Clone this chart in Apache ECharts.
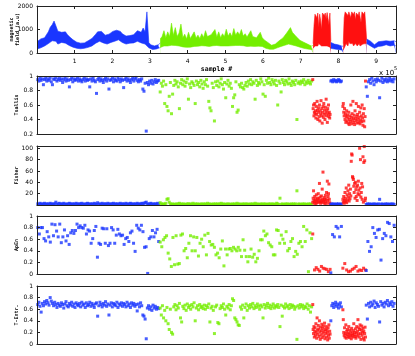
<!DOCTYPE html>
<html><head><meta charset="utf-8">
<script src="https://cdn.jsdelivr.net/npm/echarts@6/dist/echarts.min.js"></script>
<style>html,body{margin:0;padding:0;background:#fff}#c{width:415px;height:356px}</style>
</head><body><div id="c"></div><script>
// ---------- DATA (x in units of 1e5 samples) ----------
const COLORS = { blue: '#1a36ff', green: '#74ee00', red: '#ff1010' };
const xTickLabels = ['1','2','3','4','5','6','7','8','9'];
const panelNames = ['magnetic\nfield (a.u)', 'Tsallis', 'Fisher', 'ApEn', 'T-Entr.'];

// segments for the magnetic-field band (contiguous)
const magRanges = [[0,3.27],[3.27,7.33],[7.33,7.80],[7.80,8.13],[8.13,8.75],[8.75,9.53]];
const magColors = ['blue','green','red','blue','red','blue'];
const magLo = [
 [170,200,220,260,300,350,400,480,520,560,500,380,420,450,400,420,370,320,290,250,230,200,190,180,190,200,210,240,280,300,350,420,480,500,470,430,400,380,420,450,480,500,520,560,530,450,400,380,400,420,400,430,460,500,480,430,450,380,300,220,180,150,160,170,200,230],
 [230,280,300,320,300,310,330,300,320,280,300,290,260,250,240,260,250,270,280,260,290,300,310,290,300,290,280,300,310,300,320,310,300,290,300,310,300,320,310,330,320,340,320,300,310,300,280,300,290,300,280,270,290,300,280,250,200,180,160,150,160,180,220,250,280,300,330,350,380,360,340,320,300,270,250,220,200,180,170,160,150,170],
 [200,250,300,280,350,300,400,320,350,300,280,350,300,320,280,300,260,300,250,220],
 [200,180,170,160,150,140,130,120],
 [130,200,300,400,350,300,500,400,350,450,400,300,350,400,380,300,350,400,300,350,320,380,350,300,400,450],
 [400,350,300,250,200,220,280,320,300,330,350,320,300,350,330,300]
];
const magHi = [
 [480,560,600,520,650,780,900,1100,1200,1360,1150,930,980,880,860,900,790,700,640,560,500,460,430,420,440,430,470,520,580,620,700,800,900,980,920,850,760,720,800,880,920,880,970,1000,920,820,760,720,780,740,700,780,860,950,1000,880,1060,900,1750,450,350,320,300,330,350,420],
 [600,700,950,650,900,700,1270,750,1080,700,850,1230,650,800,600,880,620,700,900,640,760,620,820,660,950,700,620,780,700,1000,680,900,650,820,700,1010,720,860,700,1040,760,900,780,1000,720,820,680,760,950,700,740,650,700,880,660,560,480,450,400,330,320,380,460,520,560,640,720,850,900,1080,880,820,700,620,540,500,460,420,380,340,300,320],
 [400,1200,1650,1720,1500,1700,1100,1650,1400,1000,1700,1720,1600,1700,1450,1720,1650,1200,1700,500],
 [450,400,380,360,350,330,300,280],
 [400,1500,1750,1700,1750,1600,1750,1720,1500,1750,1700,1650,1750,1400,1700,1750,1600,1750,1700,1300,1750,1700,1650,1750,1200,550],
 [600,550,500,420,350,380,480,520,500,560,520,540,500,560,520,480]
];

// segments for the windowed measures
const segRanges = [[0.02,3.23],[3.27,7.29],[7.32,7.78],[7.80,8.08],[8.12,8.72],[8.74,9.48]];
const segColors = ['blue','green','red','blue','red','blue'];

const tsallis = [
 [.95,.93,.97,.94,.96,.88,.95,.97,.93,.96,.94,.97,.92,.88,.96,.95,.98,.93,.95,.97,.94,.96,.91,.95,.97,.93,.96,.94,.85,.95,.97,.92,.96,.94,.95,.97,.93,.96,.94,.92,.95,.97,.93,.96,.94,.95,.85,.96,.93,.97,.94,.92,.76,.95,.97,.93,.96,.94,.91,.95,.97,.93,.96,.82,.94,.95,.97,.92,.96,.94,.93,.97,.95,.92,.96,.94,.84,.95,.97,.93,.96,.94,.91,.95,.97,.93,.96,.98,.94,.92,.95,.93,.96,.82,.79,.90,.24,.91,.88,.93,.90,.94,.89,.92,.95,.91,.93,.94],
 [.78,.90,.86,.93,.62,.88,.58,.52,.72,.91,.48,.75,.87,.94,.89,.92,.85,.55,.90,.95,.88,.93,.86,.91,.96,.68,.89,.84,.92,.90,.87,.62,.93,.88,.91,.85,.94,.89,.83,.92,.88,.95,.86,.65,.56,.52,.90,.84,.38,.92,.87,.93,.85,.90,.96,.88,.82,.91,.70,.89,.94,.86,.90,.83,.58,.70,.74,.92,.50,.53,.88,.85,.90,.84,.82,.87,.91,.86,.93,.89,.95,.88,.92,.90,.68,.94,.87,.91,.89,.96,.92,.75,.88,.72,.94,.90,.97,.91,.88,.95,.92,.89,.94,.87,.60,.93,.90,.78,.95,.91,.88,.94,.92,.89,.96,.90,.87,.93,.91,.88,.94,.40,.90,.92,.89,.93,.91,.95,.88,.92,.90,.94,.91,.89,.93],
 [.95,.55,.60,.45,.50,.62,.48,.52,.42,.58,.47,.65,.53,.40,.50,.56,.44,.60,.38,.52,.48,.66,.45,.55,.35,.50,.58,.43,.62,.47,.53,.40,.57,.49,.68,.45,.52,.36,.55,.48,.60,.44,.50,.42,.47],
 [.93,.94,.92,.95,.93,.94,.92,.93,.95,.94,.92,.93],
 [.58,.62,.50,.45,.55,.40,.48,.36,.44,.52,.38,.46,.42,.35,.50,.33,.40,.45,.37,.60,.43,.34,.48,.39,.65,.42,.36,.46,.33,.52,.41,.38,.62,.44,.35,.47,.40,.58,.36,.43,.50,.34,.39,.56,.45,.37,.60,.42,.32,.48,.38,.55,.30,.44,.93],
 [.85,.72,.92,.95,.90,.97,.93,.88,.95,.92,.96,.94,.70,.93,.97,.91,.95,.93,.96,.92,.94,.97,.93,.95,.92,.96]
];

const fisher = [
 [2,1,3,2,1,2,3,1,2,2,1,3,2,1,2,2,5,1,2,3,2,1,2,3,1,2,1,2,3,2,1,2,2,1,3,2,1,2,2,3,1,2,1,2,3,2,1,2,2,1,3,2,1,4,2,1,2,3,1,2,2,1,3,2,1,2,2,3,1,2,2,1,2,3,1,2,2,1,3,2,1,2,3,2,1,2,2,1,3,2,1,2,3,2,3,4,5,2,1,2,3,2,1,2,2,1,3,2],
 [4,2,1,2,1,3,10,11,5,2,1,2,1,1,2,1,2,3,1,2,1,2,1,1,2,2,1,2,1,3,1,2,1,2,1,1,2,1,2,1,2,1,3,1,2,1,1,2,1,2,1,2,1,2,3,1,2,1,1,2,1,2,1,1,2,1,2,1,3,1,2,1,1,2,1,2,1,2,1,1,2,1,2,1,3,1,2,1,1,2,1,2,1,2,1,1,2,1,2,1,2,1,1,3,2,1,12,1,2,1,1,2,1,2,1,1,2,1,2,1,2,25,1,2,1,1,2,1,2,1,1,2,1,2,1],
 [5,12,25,8,3,15,6,10,2,18,7,4,12,9,20,5,11,38,6,14,3,8,16,5,28,10,58,7,4,13,9,2,17,6,11,22,3,42,8,15,20,37,10,4,2],
 [1,2,1,2,1,1,2,1,2,1,1,2],
 [10,5,15,3,8,22,12,6,30,4,18,9,25,14,35,7,20,11,28,16,77,90,88,50,48,45,33,22,38,12,40,27,15,32,8,35,20,42,26,18,100,30,80,14,22,38,10,32,85,5,75,103,78,8,12],
 [1,2,1,2,1,1,2,1,2,1,1,2,10,1,2,1,1,2,1,2,1,1,2,1,2,1]
];

const apen = [
 [.80,.69,.80,.80,.61,.57,.73,.64,.55,.86,.66,.85,.74,.64,.86,.54,.64,.76,.57,.66,.51,.71,.75,.70,.75,.86,.80,.83,.80,.79,.84,.69,.76,.74,.53,.61,.75,.82,.29,.53,.51,.79,.78,.53,.78,.49,.53,.80,.76,.53,.67,.77,.69,.66,.67,.51,.61,.63,.56,.71,.74,.53,.39,.84,.79,.76,.84,.73,.46,.47,.01,.61,.64,.75,.64,.71,.77,.56],
 [.55,.47,.59,.63,.66,.36,.26,.13,.63,.16,.66,.17,.18,.67,.69,.40,.44,.28,.53,.66,.40,.64,.40,.63,.31,.53,.60,.47,.67,.33,.70,.56,.50,.51,.46,.33,.36,.28,.43,.57,.14,.43,.33,.43,.44,.40,.46,.43,.40,.46,.41,.30,.59,.41,.30,.21,.30,.43,.29,.34,.21,.27,.40,.59,.59,.74,.66,.69,.54,.50,.47,.33,.33,.76,.75,.53,.67,.60,.53,.73,.40,.44,.56,.61,.30,.39,.34,.53,.56,.47,.82,.56,.76,.04,.71,.61],
 [.69,.07,.11,.08,.05,.13,.10,.09,.08,.04,.08],
 [.02,.68,.64,.82,.79,.64,.82],
 [.10,.18,.07,.04,.05,.08,.10,.13,.05,.07,.06,.10,.07],
 [.06,.56,.39,.47,.80,.70,.63,.76,.77,.24,.61,.70,.66,.89,.87,.64,.56,.84]
];

const tentr = [
 [.68,.72,.65,.55,.70,.66,.73,.69,.75,.71,.67,.80,.74,.70,.66,.72,.68,.63,.70,.67,.65,.71,.68,.62,.69,.73,.66,.64,.70,.67,.72,.65,.69,.63,.71,.68,.66,.70,.64,.72,.67,.69,.63,.71,.66,.68,.72,.65,.70,.67,.63,.69,.71,.48,.66,.72,.68,.64,.70,.67,.73,.65,.69,.50,.67,.71,.64,.70,.68,.66,.72,.63,.69,.67,.71,.65,.70,.68,.64,.72,.66,.69,.63,.71,.67,.70,.65,.68,.57,.69,.64,.71,.66,.50,.48,.43,.09,.62,.66,.60,.64,.58,.67,.62,.65,.60,.63,.61],
 [.62,.50,.66,.45,.58,.40,.63,.35,.25,.60,.20,.17,.64,.68,.59,.66,.62,.70,.45,.38,.65,.61,.67,.58,.69,.63,.66,.60,.68,.64,.71,.40,.62,.66,.59,.68,.63,.65,.61,.67,.60,.66,.63,.69,.38,.62,.65,.58,.18,.64,.67,.37,.35,.61,.66,.63,.69,.60,.50,.65,.62,.68,.59,.66,.78,.75,.45,.42,.38,.33,.32,.64,.60,.67,.45,.63,.69,.58,.66,.62,.68,.64,.70,.61,.66,.63,.69,.65,.60,.67,.64,.45,.68,.62,.66,.70,.63,.67,.61,.65,.69,.62,.66,.64,.68,.63,.30,.67,.48,.65,.62,.69,.64,.66,.61,.68,.63,.67,.65,.60,.64,.08,.66,.62,.68,.64,.67,.61,.65,.63,.69,.60,.66,.55,.64],
 [.68,.25,.18,.30,.12,.22,.28,.15,.35,.20,.10,.45,.24,.17,.32,.26,.13,.40,.21,.08,.29,.16,.23,.34,.11,.27,.19,.31,.14,.22,.36,.09,.25,.18,.30,.12,.24,.20,.07,.28,.15,.33,.10,.22,.17],
 [.40,.66,.70,.63,.68,.72,.65,.69,.62,.67,.71,.64],
 [.59,.42,.20,.15,.28,.12,.18,.33,.10,.22,.16,.25,.13,.19,.30,.11,.17,.24,.14,.21,.09,.27,.15,.18,.12,.23,.35,.16,.20,.13,.26,.10,.19,.30,.14,.22,.42,.17,.28,.12,.25,.33,.18,.08,.24,.31,.15,.20,.27,.10,.22,.07,.18,.29,.12],
 [.67,.43,.70,.64,.72,.66,.69,.74,.63,.71,.68,.65,.38,.73,.67,.70,.64,.72,.69,.75,.66,.71,.68,.73,.65,.70]
];

// axis ranges per panel: [min, max, interval]
const yRanges = [[0,2000,1000],[0.2,1,0.2],[0,104,20],[0,1,0.2],[0,1,0.2]];
const X_MAX = 9.53;

// ---------- LAYOUT ----------
const grids = [
  {left:37, top:6, width:359, height:47},
  {left:37, top:76, width:359, height:58},
  {left:37, top:146, width:359, height:59},
  {left:37, top:216, width:359, height:58},
  {left:37, top:286, width:359, height:58}
];
const AX = '#222';
const FONT = 'DejaVu Sans';
const MONO = 'DejaVu Sans Mono';

function pts(range, vals){
  const n = vals.length;
  return vals.map((v,i)=>[range[0] + (n>1 ? i*(range[1]-range[0])/(n-1) : 0), v]);
}

const xAxis = [], yAxis = [];
grids.forEach((g, gi) => {
  const base = {gridIndex:gi, type:'value', min:0, max:X_MAX, interval:1, splitLine:{show:false}, z:10,
    axisLine:{show:true, onZero:false, lineStyle:{color:AX, width:1}},
    axisTick:{show:gi===0, inside:true, length:3, lineStyle:{color:AX}}};
  xAxis.push(Object.assign({}, base, {position:'bottom',
    axisLabel:{show:gi===0, fontFamily:FONT, fontSize:6, color:'#000', margin:5,
      formatter: v => { const k = Math.round(v); return (Math.abs(v-k)<1e-6 && k>=1 && k<=9) ? xTickLabels[k-1] : ''; }},
    name: gi===0 ? 'sample #' : '', nameLocation:'middle', nameGap:13, nameMoveOverlap:false,
    nameTextStyle:{fontFamily:MONO, fontWeight:'bold', fontSize:6.5, color:'#000'}}));
  xAxis.push(Object.assign({}, base, {position:'top', axisLabel:{show:false}}));
  const [mn, mx, iv] = yRanges[gi];
  const ybase = {gridIndex:gi, type:'value', min:mn, max:mx, interval:iv, splitLine:{show:false}, z:10,
    axisLine:{show:true, onZero:false, lineStyle:{color:AX, width:1}},
    axisTick:{show:true, inside:true, length:3, lineStyle:{color:AX}}};
  yAxis.push(Object.assign({}, ybase, {position:'left',
    axisLabel:{fontFamily:FONT, fontSize:6, color:'#000', margin:4,
      formatter: v => { if (gi===2 && (v<=0 || v>100)) return ''; return String(+v.toFixed(2)); }},
    name: panelNames[gi], nameLocation:'middle', nameGap: gi===0 ? 17 : 17.5, nameMoveOverlap:false,
    nameTextStyle:{fontFamily:MONO, fontWeight:'bold', fontSize:5, lineHeight:5.5, color:'#000'}}));
  yAxis.push(Object.assign({}, ybase, {position:'right', axisLabel:{show:false}}));
});

const series = [];
// upper envelope: filled with segment colour down to the axis
magRanges.forEach((r, k) => {
  const c = COLORS[magColors[k]];
  series.push({type:'line', xAxisIndex:0, yAxisIndex:0, data:pts(r, magHi[k]),
    symbol:'none', lineStyle:{width:0.6, color:c}, areaStyle:{color:c, opacity:1}, silent:true, z:2});
});
// lower envelope: white fill below it, leaving the coloured band
magRanges.forEach((r, k) => {
  const c = COLORS[magColors[k]];
  series.push({type:'line', xAxisIndex:0, yAxisIndex:0, data:pts(r, magLo[k]),
    symbol:'none', lineStyle:{width:0.6, color:c}, areaStyle:{color:'#ffffff', opacity:1}, silent:true, z:3});
});
[tsallis, fisher, apen, tentr].forEach((panel, p) => {
  const gi = p + 1;
  panel.forEach((vals, k) => {
    series.push({type:'scatter', xAxisIndex:gi*2, yAxisIndex:gi*2, data:pts(segRanges[k], vals),
      symbol:'rect', symbolSize:3, itemStyle:{color:COLORS[segColors[k]]}, silent:true});
  });
});

const chart = echarts.init(document.getElementById('c'), null, {renderer:'canvas'});
chart.setOption({
  animation:false,
  backgroundColor:'#fff',
  grid:grids, xAxis, yAxis, series,
  graphic:[
    {type:'text', left:379, top:70, style:{text:'x 10', fontFamily:FONT, fontSize:7, fill:'#000'}},
    {type:'text', left:394, top:66, style:{text:'5', fontFamily:FONT, fontSize:5, fill:'#000'}}
  ]
});
</script></body></html>
